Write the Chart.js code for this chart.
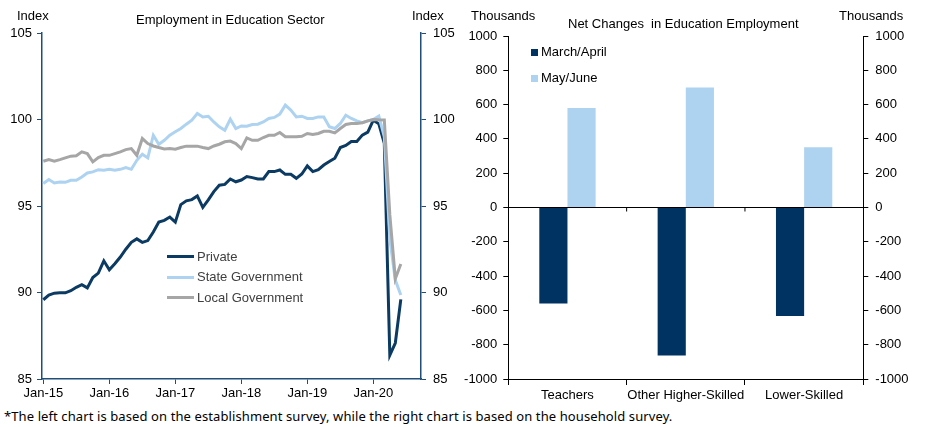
<!DOCTYPE html>
<html>
<head>
<meta charset="utf-8">
<script src="https://cdn.jsdelivr.net/npm/chart.js@4.4.0/dist/chart.umd.min.js"></script>
<style>
  body { margin: 0; background: #fff; }
  #wrap { position: relative; width: 936px; height: 427px; font-family: 'Liberation Sans', Arial, sans-serif; }
  .lbl { position: absolute; font-size: 13px; line-height: 16px; color: #000; white-space: nowrap; }
  .leg { color: #404040; }
  .swatch { position: absolute; }
  canvas { position: absolute; top: 0; }
  #note { position: absolute; left: 4px; top: 408px; font-family: 'Noto Sans', sans-serif; font-size: 13px; line-height: 16px; letter-spacing: 0.1px; white-space: nowrap; }
</style>
</head>
<body>
<div id="wrap">
  <div style="position:absolute;left:0;top:0;width:460px;height:405px"><canvas id="left"></canvas></div>
  <div style="position:absolute;left:460px;top:0;width:476px;height:405px"><canvas id="right"></canvas></div>

  <div class="lbl" style="left:17px;top:8px">Index</div>
  <div class="lbl" style="left:136px;top:12px">Employment in Education Sector</div>
  <div class="lbl" style="left:412px;top:8px">Index</div>

  <div class="lbl" style="left:471px;top:8px">Thousands</div>
  <div class="lbl" style="left:568px;top:16px">Net Changes&nbsp; in Education Employment</div>
  <div class="lbl" style="left:839px;top:8px">Thousands</div>

  <div class="swatch" style="left:167px;top:255px;width:27px;height:3px;background:#0b3a62"></div>
  <div class="lbl leg" style="left:197px;top:249px">Private</div>
  <div class="swatch" style="left:167px;top:276px;width:27px;height:3px;background:#add3f1"></div>
  <div class="lbl leg" style="left:197px;top:269px">State Government</div>
  <div class="swatch" style="left:167px;top:296px;width:27px;height:3px;background:#a6a6a6"></div>
  <div class="lbl leg" style="left:197px;top:290px">Local Government</div>

  <div class="swatch" style="left:531px;top:49px;width:7px;height:7px;background:#003361"></div>
  <div class="lbl" style="left:541px;top:44px">March/April</div>
  <div class="swatch" style="left:531px;top:75px;width:7px;height:7px;background:#add3f1"></div>
  <div class="lbl" style="left:541px;top:70px">May/June</div>

  <div id="note">*The left chart is based on the establishment survey, while the right chart is based on the household survey.</div>
</div>

<script>
// left chart: index, monthly Jan-15 .. Jun-20
const privateEd = [89.58, 89.85, 89.96, 89.98, 89.98, 90.1, 90.3, 90.45, 90.27, 90.87,
  91.12, 91.83, 91.31, 91.66, 92.05, 92.5, 92.9, 93.1, 92.9, 93.0,
  93.5, 94.07, 94.17, 94.36, 94.07, 95.08, 95.3, 95.37, 95.58, 94.92,
  95.35, 95.83, 96.2, 96.25, 96.56, 96.4, 96.5, 96.7, 96.64, 96.56,
  96.56, 96.99, 96.99, 97.08, 96.83, 96.83, 96.6, 96.85, 97.32, 96.99,
  97.1, 97.37, 97.57, 97.76, 98.38, 98.5, 98.73, 98.73, 99.1, 99.27,
  99.96, 99.75, 98.62, 86.38, 87.08, 89.6]
const stateEd = [96.3, 96.53, 96.33, 96.39, 96.37, 96.49, 96.49, 96.68, 96.91, 96.97,
  97.1, 97.07, 97.12, 97.07, 97.12, 97.22, 97.12, 97.64, 97.99, 97.78,
  99.09, 98.57, 98.8, 99.09, 99.29, 99.48, 99.73, 99.96, 100.35, 100.15,
  100.19, 99.86, 99.58, 99.38, 100.02, 99.48, 99.63, 99.61, 99.71, 99.73,
  99.86, 100.06, 100.12, 100.31, 100.83, 100.54, 100.15, 100.19, 100.06, 100.06,
  100.15, 100.15, 99.58, 99.48, 99.77, 100.25, 100.06, 99.92, 99.81, 99.92,
  100.0, 100.2, 99.0, 93.1, 90.72, 89.86]
const localEd = [97.59, 97.68, 97.59, 97.68, 97.78, 97.88, 97.9, 98.13, 98.03, 97.55,
  97.8, 97.93, 97.93, 98.03, 98.13, 98.26, 98.32, 97.93, 98.9, 98.61,
  98.47, 98.38, 98.3, 98.32, 98.28, 98.38, 98.46, 98.46, 98.46, 98.38,
  98.32, 98.47, 98.57, 98.71, 98.75, 98.61, 98.32, 98.94, 98.8, 98.8,
  98.96, 99.09, 99.09, 99.25, 99.0, 99.0, 99.0, 99.03, 99.19, 99.13,
  99.19, 99.32, 99.32, 99.23, 99.48, 99.71, 99.77, 99.77, 99.81, 99.92,
  100.0, 99.98, 99.97, 94.5, 90.8, 91.65]
const yearTickLabels = ['Jan-15', 'Jan-16', 'Jan-17', 'Jan-18', 'Jan-19', 'Jan-20']
const yearTickMonths = [0, 12, 24, 36, 48, 60]

// right chart: thousands
const categories = ['Teachers', 'Other Higher-Skilled', 'Lower-Skilled']
const marchApril = [-560, -863, -632]
const mayJune = [580, 700, 352]

const NAVY = '#0b3a62'
const BAR_NAVY = '#003361'
const LIGHT = '#add3f1'
const GREY = '#a6a6a6'
const AXIS_BLUE = '#1f4e79'
const tickFont = { family: "'Liberation Sans', Arial, sans-serif", size: 13 }

Chart.defaults.animation = false
Chart.defaults.responsive = true
Chart.defaults.maintainAspectRatio = false
Chart.defaults.color = '#000'

const toPoints = arr => arr.map((v, i) => ({ x: i, y: v }))

function indexAxis(position, width, pad) {
  return {
    position: position,
    min: 85,
    max: 105,
    afterBuildTicks: axis => { axis.ticks = [85, 90, 95, 100, 105].map(v => ({ value: v })) },
    afterFit: axis => { axis.width = width },
    border: { color: AXIS_BLUE, width: 1.5 },
    grid: { drawOnChartArea: false, color: AXIS_BLUE, tickLength: 5 },
    ticks: { font: tickFont, padding: pad, color: '#000' }
  }
}

new Chart(document.getElementById('left'), {
  type: 'line',
  data: {
    datasets: [
      { label: 'Private', data: toPoints(privateEd), borderColor: NAVY, borderWidth: 3, pointRadius: 0, order: 3 },
      { label: 'State Government', data: toPoints(stateEd), borderColor: LIGHT, borderWidth: 3, pointRadius: 0, order: 2 },
      { label: 'Local Government', data: toPoints(localEd), borderColor: GREY, borderWidth: 3, pointRadius: 0, order: 1 }
    ]
  },
  options: {
    layout: { padding: { top: 33, left: 0, right: 0, bottom: 0 } },
    plugins: { legend: { display: false }, tooltip: { enabled: false } },
    scales: {
      x: {
        type: 'linear',
        min: -0.24,
        max: 68.67,
        afterBuildTicks: axis => { axis.ticks = yearTickMonths.map(v => ({ value: v })) },
        afterFit: axis => { axis.height = 26 },
        border: { color: AXIS_BLUE, width: 1.5 },
        grid: { drawOnChartArea: false, color: AXIS_BLUE, tickLength: 5 },
        ticks: {
          font: tickFont, padding: 2, maxRotation: 0,
          callback: v => yearTickLabels[yearTickMonths.indexOf(v)]
        }
      },
      y: indexAxis('left', 42, 5),
      y2: indexAxis('right', 39, 7)
    }
  }
})

const zeroTicks = {
  id: 'zeroTicks',
  afterDatasetsDraw(chart) {
    const x = chart.scales.x, y = chart.scales.y
    const ctx = chart.ctx
    const y0 = y.getPixelForValue(0)
    ctx.save()
    ctx.strokeStyle = '#000'
    ctx.lineWidth = 1
    ctx.beginPath()
    ctx.moveTo(x.left, y0)
    ctx.lineTo(x.right, y0)
    for (let i = 0; i < categories.length - 1; i++) {
      const b = (x.getPixelForValue(i) + x.getPixelForValue(i + 1)) / 2
      ctx.moveTo(b, y0)
      ctx.lineTo(b, y0 + 4)
    }
    ctx.stroke()
    ctx.restore()
  }
}

function thousandsAxis(position, width, pad) {
  return {
    position: position,
    min: -1000,
    max: 1000,
    afterBuildTicks: axis => {
      const t = []
      for (let v = -1000; v <= 1000; v += 200) t.push({ value: v })
      axis.ticks = t
    },
    afterFit: axis => { axis.width = width },
    border: { color: '#000', width: 1 },
    grid: { drawOnChartArea: false, color: '#000', tickLength: 5 },
    ticks: { font: tickFont, padding: pad, color: '#000', callback: v => String(v) }
  }
}

new Chart(document.getElementById('right'), {
  type: 'bar',
  data: {
    labels: categories,
    datasets: [
      { label: 'March/April', data: marchApril, backgroundColor: BAR_NAVY, categoryPercentage: 0.476, barPercentage: 1 },
      { label: 'May/June', data: mayJune, backgroundColor: LIGHT, categoryPercentage: 0.476, barPercentage: 1 }
    ]
  },
  options: {
    layout: { padding: { top: 36, left: 0, right: 0, bottom: 0 } },
    plugins: { legend: { display: false }, tooltip: { enabled: false } },
    scales: {
      x: {
        afterFit: axis => { axis.height = 26 },
        border: { color: '#000', width: 1 },
        grid: { drawOnChartArea: false, color: '#000', tickLength: 6, offset: true },
        ticks: { font: tickFont, padding: 3, maxRotation: 0, autoSkip: false }
      },
      y: thousandsAxis('left', 48.3, 6),
      y2: thousandsAxis('right', 72.7, 7)
    }
  },
  plugins: [zeroTicks]
})
</script>
</body>
</html>
